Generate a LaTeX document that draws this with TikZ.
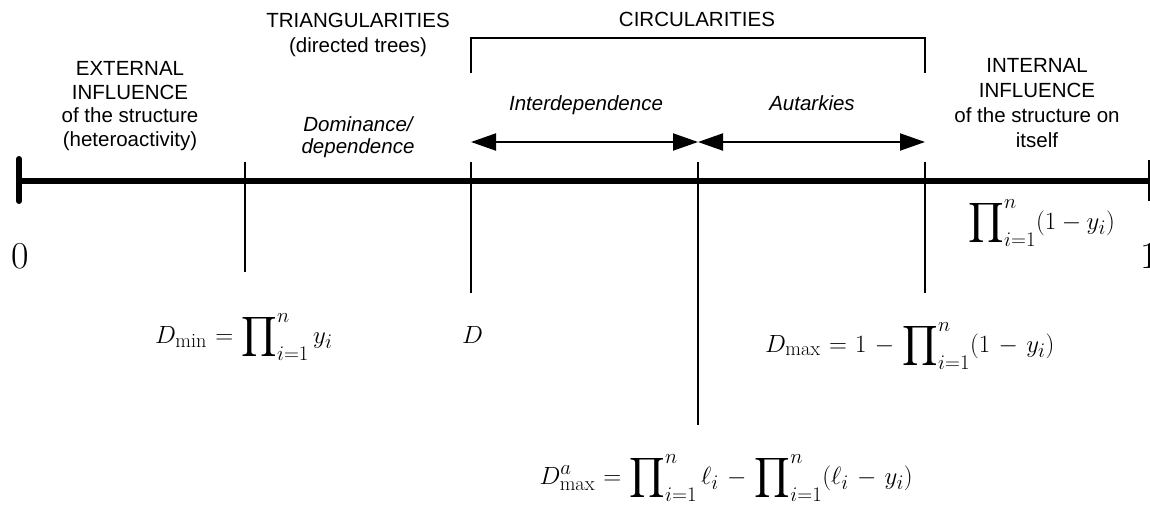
\documentclass[tikz,border=0pt]{standalone}
\usepackage{amsmath}
\usepackage{exscale}
\usepackage{fontspec}
\usepackage{graphicx}
\newfontfamily\arialf{Liberation Sans}
\usetikzlibrary{arrows.meta}
\newcommand{\Bprod}{\mathop{\vcenter{\hbox{\scalebox{1.12}{$\displaystyle\prod$}}}}\nolimits}
\newcommand{\widesp}{\medmuskip=6mu\relax\thickmuskip=6mu\relax}
\tikzset{
  lbl/.style={font=\arialf\fontsize{20.5}{24}\selectfont, align=center, inner sep=0pt},
  ital/.style={font=\arialf\itshape\fontsize{20.5}{22}\selectfont, align=center, inner sep=0pt},
  fml/.style={font=\fontsize{29}{33}\selectfont, inner sep=0pt},
  num/.style={font=\fontsize{38}{40}\selectfont, inner sep=0pt},
  tickline/.style={line width=2pt},
  axisline/.style={line width=6pt},
  endtick/.style={line width=6pt, line cap=round},
  dblarrow/.style={line width=2pt, {Triangle[length=25pt,width=17pt]}-{Triangle[length=25pt,width=17pt]}},
}
\begin{document}
\begin{tikzpicture}[x=1pt,y=-1pt]
\useasboundingbox[fill=white] (0,0) rectangle (1150,512);
% axis
\coordinate (a0) at (19,181);
\coordinate (a1) at (1152,181);
\coordinate (e0t) at (19,159);
\coordinate (e0b) at (19,201);
\draw[axisline] (a0) -- (a1);
\draw[endtick] (e0t) -- (e0b);
\coordinate (e1t) at (1149,160);
\coordinate (e1b) at (1149,201);
\draw[tickline] (e1t) -- (e1b);
% vertical ticks
\coordinate (t1t) at (245,162); \coordinate (t1b) at (245,272);
\coordinate (t2t) at (471,162); \coordinate (t2b) at (471,293);
\coordinate (t3t) at (698,162); \coordinate (t3b) at (698,425);
\coordinate (t4t) at (925,162); \coordinate (t4b) at (925,293);
\draw[tickline] (t1t) -- (t1b);
\draw[tickline] (t2t) -- (t2b);
\draw[tickline] (t3t) -- (t3b);
\draw[tickline] (t4t) -- (t4b);
% bracket
\coordinate (b1) at (471,73); \coordinate (b2) at (471,38);
\coordinate (b3) at (925,38); \coordinate (b4) at (925,73);
\draw[tickline] (b1) -- (b2) -- (b3) -- (b4);
% arrows
\coordinate (p1) at (471,142); \coordinate (p2) at (698,142); \coordinate (p3) at (925,142);
\draw[dblarrow] (p1) -- (p2);
\draw[dblarrow] (p2) -- (p3);
% texts
\node[lbl, anchor=north, font=\arialf\fontsize{20.5}{23.7}\selectfont] (ext) at (130,61) {EXTERNAL\\INFLUENCE\\of the structure\\(heteroactivity)};
\node[lbl, anchor=north, font=\arialf\fontsize{20.5}{25}\selectfont] (tri) at (358,13) {TRIANGULARITIES\\(directed trees)};
\node[ital, anchor=north] (dom) at (358,116) {Dominance/\\dependence};
\node[lbl, anchor=base] (circ) at (697,26) {CIRCULARITIES};
\node[ital, anchor=base] (inter) at (586,110) {Interdependence};
\node[ital, anchor=base] (aut) at (812,110) {Autarkies};
\node[lbl, anchor=north, font=\arialf\fontsize{20.5}{25}\selectfont] (int) at (1037,58) {INTERNAL\\INFLUENCE\\of the structure on\\itself};
% numbers
\node[num, anchor=base] (zero) at (20,268) {0};
\node[num, anchor=base west] (one) at (1140,268) {1};
% formulas
\node[fml, anchor=base east] (pr) at (1115,229) {$\Bprod_{i=1}^{n}(1-y_i)$};
\node[fml, anchor=base west] (dmin) at (155,343) {$\widesp D_{\min}=\Bprod_{i=1}^{n}y_i$};
\node[fml, anchor=base west] (dd) at (462,343) {$D$};
\node[fml, anchor=base west] (dmax) at (765,352) {$\widesp D_{\max}=1-\Bprod_{i=1}^{n}(1-y_i)$};
\node[fml, anchor=base east] (dmaxa) at (913,484) {$\widesp D_{\max}^{a}=\Bprod_{i=1}^{n}\ell_i-\Bprod_{i=1}^{n}(\ell_i-y_i)$};
\end{tikzpicture}
\end{document}
